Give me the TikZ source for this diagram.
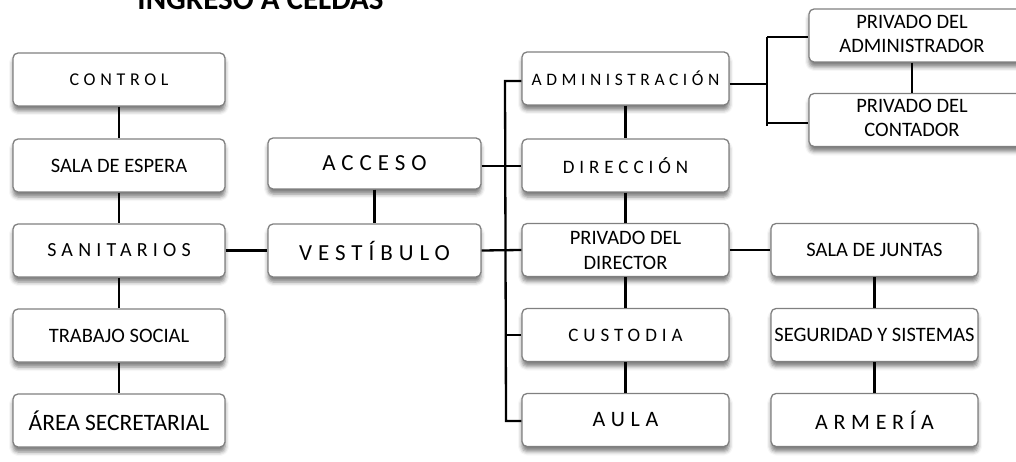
\documentclass[tikz,border=0pt]{standalone}
\usepackage{fontspec}
\setmainfont{Carlito}
\newfontfamily\spc[LetterSpace=26]{Carlito}
\usetikzlibrary{shadows.blur}
\newcommand{\fs}[2]{\fontsize{#1}{#2}\selectfont}
\tikzset{
  box/.style={draw=black!50, line width=1.3pt, rounded corners=5pt, fill=white,
    minimum height=53pt, align=center, inner sep=1pt,
    blur shadow={shadow xshift=0pt, shadow yshift=-5pt, shadow blur radius=4pt, shadow opacity=50}},
  lw/.style={box, minimum width=212pt},
  mw/.style={box, minimum width=207pt},
  plain/.style={font=\fs{20.5}{25}},
  conn/.style={line width=2.3pt, black}
}
\begin{document}
\begin{tikzpicture}[x=1pt,y=-1pt]
\useasboundingbox (0,0) rectangle (1016,462);
\begin{scope}
\clip (0,0) rectangle (1016,462);
% title
\node[font=\bfseries\fs{31}{34}, anchor=base, inner sep=0pt] (title) at (260.5,10) {INGRESO A CELDAS};
% left column
\node[lw, font=\spc\fs{18}{21}] (control) at (119,79.5) {CONTROL};
\node[lw, plain] (espera) at (119,165.5) {SALA DE ESPERA};
\node[lw, font=\spc\fs{20}{23}] (sanit) at (119,250.5) {SANITARIOS};
\node[lw, plain] (trabajo) at (119,335.5) {TRABAJO SOCIAL};
\node[lw, font=\fs{23.5}{26}] (area) at (119,420.5) {ÁREA SECRETARIAL};
% centre
\node[box, minimum width=213pt, minimum height=51pt, font=\spc\fs{23}{26}] (acceso) at (374.5,163.5) {ACCESO};
\node[box, minimum width=213pt, font=\spc\fs{23}{26}] (vest) at (374.5,250.5) {VESTÍBULO};
% middle-right column
\node[mw, font=\spc\fs{17.5}{20}] (admin) at (625.5,78.5) {ADMINISTRACIÓN};
\node[mw, font=\spc\fs{19}{22}] (dir) at (625.5,165.5) {DIRECCIÓN};
\node[mw, plain] (pdir) at (625.5,250) {PRIVADO DEL\\DIRECTOR};
\node[mw, font=\spc\fs{19}{22}] (cust) at (625.5,335) {CUSTODIA};
\node[mw, font=\spc\fs{22}{25}] (aula) at (625.5,420) {AULA};
% right column
\node[mw, plain] (juntas) at (874.5,250) {SALA DE JUNTAS};
\node[mw, font=\fs{20.5}{24}] (seg) at (874.5,335) {SEGURIDAD Y SISTEMAS};
\node[mw, font=\spc\fs{22}{25}] (arm) at (874.5,420) {ARMERÍA};
% far right
\node[box, minimum width=220pt, plain] (padm) at (919,35.5) {\begin{tabular}{@{}c@{}}PRIVADO DEL\\[-1pt]ADMINISTRADOR\end{tabular}\hspace*{14pt}};
\node[box, minimum width=220pt, plain] (pcont) at (919,120) {\begin{tabular}{@{}c@{}}PRIVADO DEL\\[-1pt]CONTADOR\end{tabular}\hspace*{14pt}};
% connectors
\draw[conn] (control) -- (espera);
\draw[conn] (espera) -- (sanit);
\draw[conn] (sanit) -- (trabajo);
\draw[conn] (trabajo) -- (area);
\draw[conn] (acceso) -- (vest);
\draw[conn] (sanit) -- (vest);
\draw[conn] (admin) -- (dir);
\draw[conn] (dir) -- (pdir);
\draw[conn] (pdir) -- (cust);
\draw[conn] (cust) -- (aula);
\draw[conn] (juntas) -- (seg);
\draw[conn] (seg) -- (arm);
\draw[conn] (padm.south -| 912,0) -- (pcont.north -| 912,0);
\draw[conn] (pdir) -- (juntas);
% bus
\coordinate (bt) at (505,81);
\coordinate (bb) at (506,421);
\draw[conn] (admin.west |- bt) -- (bt) -- (bb) -- (aula.west |- bb);
\draw[conn] (acceso.east |- 0,166) -- (dir.west |- 0,166);
\draw[conn] (vest.east) -- (pdir.west);
\draw[conn] (cust.west -| bb) -- (cust.west);
% bracket
\coordinate (kt) at (767,37);
\coordinate (kb) at (767,126);
\draw[conn] (admin.east |- 0,84) -- (kt |- 0,84);
\draw[conn] (kt) -- (kb);
\draw[conn] (kt) -- (kt -| padm.west);
\draw[conn] (767,123) -- (pcont.west |- 0,123);
\end{scope}
\end{tikzpicture}
\end{document}
